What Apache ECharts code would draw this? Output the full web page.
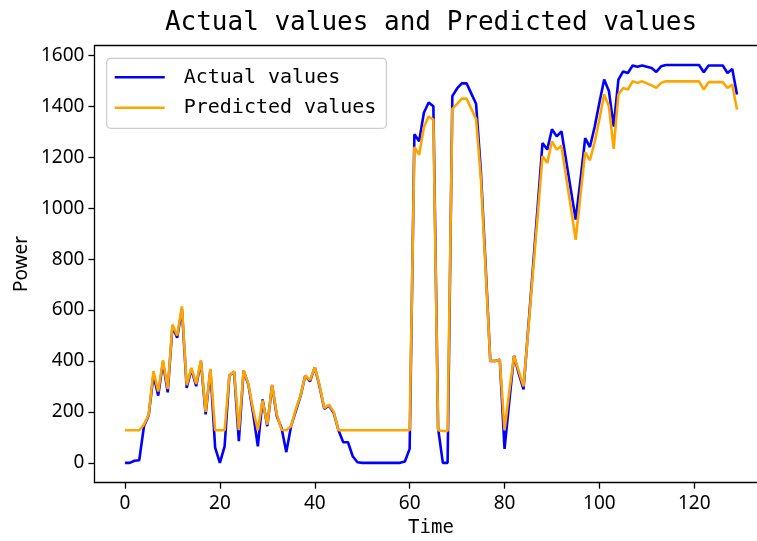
<!DOCTYPE html>
<html><head><meta charset="utf-8">
<script src="https://cdn.jsdelivr.net/npm/echarts@6/dist/echarts.min.js"></script>
<style>html,body{margin:0;padding:0;background:#fff;overflow:hidden}#c{width:757px;height:541px}</style>
</head><body><div id="c"></div>
<script>
const actualValues = [
  0, 0, 8, 10, 144, 187, 345, 264, 395, 277,
  535, 491, 605, 294, 368, 301, 398, 190, 365, 60,
  0, 65, 343, 358, 85, 362, 307, 195, 65, 249,
  144, 305, 183, 137, 42, 144, 203, 262, 343, 320,
  375, 301, 212, 225, 196, 128, 81, 81, 26, 2,
  0, 0, 0, 0, 0, 0, 0, 0, 0, 5,
  55, 1290, 1263, 1375, 1415, 1400, 135, 0, 0, 1440,
  1470, 1490, 1490, 1450, 1410, 1150, 780, 400, 400, 405,
  55, 240, 420, 350, 288, 530, 770, 1010, 1256, 1230,
  1310, 1282, 1302, 1185, 1070, 955, 1110, 1275, 1240, 1320,
  1415, 1505, 1460, 1320, 1505, 1537, 1531, 1560, 1555, 1560,
  1555, 1550, 1535, 1557, 1562, 1562, 1562, 1562, 1562, 1562,
  1562, 1562, 1534, 1560, 1560, 1560, 1560, 1531, 1547, 1446
];
const predictedValues = [
  128, 128, 128, 128, 150, 190, 360, 280, 403, 290,
  543, 500, 615, 305, 373, 310, 403, 200, 369, 128,
  128, 128, 343, 360, 128, 364, 310, 210, 128, 245,
  150, 307, 190, 130, 128, 144, 210, 265, 343, 325,
  375, 305, 215, 228, 200, 128, 128, 128, 128, 128,
  128, 128, 128, 128, 128, 128, 128, 128, 128, 128,
  128, 1240, 1210, 1318, 1360, 1348, 128, 125, 125, 1390,
  1410, 1430, 1430, 1390, 1350, 1120, 760, 400, 400, 405,
  128, 280, 420, 360, 300, 520, 750, 975, 1204, 1178,
  1262, 1230, 1245, 1120, 1000, 876, 1050, 1220, 1188, 1260,
  1350, 1446, 1400, 1233, 1446, 1472, 1466, 1498, 1492, 1498,
  1490, 1482, 1472, 1492, 1498, 1498, 1498, 1498, 1498, 1498,
  1498, 1498, 1466, 1495, 1495, 1495, 1495, 1472, 1485, 1387
];
const timeSteps = actualValues.map((_, i) => i);
const xTicks = [0, 20, 40, 60, 80, 100, 120];
const yTicks = [0, 200, 400, 600, 800, 1000, 1200, 1400, 1600];
const seriesNames = ['Actual values', 'Predicted values'];
const titleText = 'Actual values and Predicted values';
const xLabel = 'Time';
const yLabel = 'Power';

const chart = echarts.init(document.getElementById('c'), null, {renderer: 'canvas'});
const mono = 'DejaVu Sans Mono';
const sans = 'Noto Sans';
const G = {left: 94.4, top: 45.7, width: 673.2, height: 437};
const spine = {show: true, onZero: false, lineStyle: {color: '#000', width: 1.3}};
chart.setOption({
  animation: false,
  backgroundColor: '#fff',
  grid: {left: G.left, top: G.top, width: G.width, height: G.height, containLabel: false,
         outerBoundsMode: 'none', show: false},
  xAxis: [{
    type: 'value', min: -6.45, max: 135.45, position: 'bottom',
    axisLine: spine,
    axisTick: {show: true, length: 6, lineStyle: {color: '#000', width: 1.3}, customValues: xTicks},
    axisLabel: {show: true, customValues: xTicks, margin: 11, color: '#000', fontFamily: sans, fontSize: 19,
                formatter: v => String(v)},
    splitLine: {show: false}
  }, {
    type: 'value', min: -6.45, max: 135.45, position: 'top',
    axisLine: spine, axisTick: {show: false}, axisLabel: {show: false}, splitLine: {show: false}
  }],
  yAxis: {
    type: 'value', min: -78, max: 1638,
    axisLine: spine,
    axisTick: {show: true, length: 6, lineStyle: {color: '#000', width: 1.3}, customValues: yTicks},
    axisLabel: {show: true, customValues: yTicks, margin: 10, color: '#000', fontFamily: sans, fontSize: 19,
                formatter: v => String(v)},
    splitLine: {show: false}
  },
  legend: {
    orient: 'vertical', left: 106.7, top: 58.3,
    data: seriesNames,
    icon: 'rect', itemWidth: 50, itemHeight: 2.6, itemGap: 8.4,
    padding: [8, 10, 9.6, 8],
    backgroundColor: 'rgba(255,255,255,0.85)', borderColor: '#cccccc', borderWidth: 1.2, borderRadius: 4,
    textStyle: {fontFamily: mono, fontSize: 20, lineHeight: 22, color: '#000', padding: [0, 0, 0, 14]},
    selectedMode: false
  },
  graphic: [
    {type: 'text', x: 431, y: 23, style: {text: titleText, fontFamily: mono, fontSize: 26, fill: '#000', textAlign: 'center', textVerticalAlign: 'middle'}},
    {type: 'text', x: 431, y: 528, style: {text: xLabel, fontFamily: mono, fontSize: 19, fill: '#000', textAlign: 'center', textVerticalAlign: 'middle'}},
    {type: 'text', x: 22, y: 264, rotation: Math.PI / 2, style: {text: yLabel, fontFamily: sans, fontSize: 19, fill: '#000', textAlign: 'center', textVerticalAlign: 'middle'}}
  ],
  series: [
    {name: seriesNames[0], type: 'line', showSymbol: false, symbol: 'none', xAxisIndex: 0,
     data: timeSteps.map((t, i) => [t, actualValues[i]]),
     lineStyle: {color: '#0000ff', width: 2.6}, itemStyle: {color: '#0000ff'}, emphasis: {disabled: true}},
    {name: seriesNames[1], type: 'line', showSymbol: false, symbol: 'none', xAxisIndex: 0,
     data: timeSteps.map((t, i) => [t, predictedValues[i]]),
     lineStyle: {color: '#ffa500', width: 2.6}, itemStyle: {color: '#ffa500'}, emphasis: {disabled: true}}
  ]
});
</script>
</body></html>
